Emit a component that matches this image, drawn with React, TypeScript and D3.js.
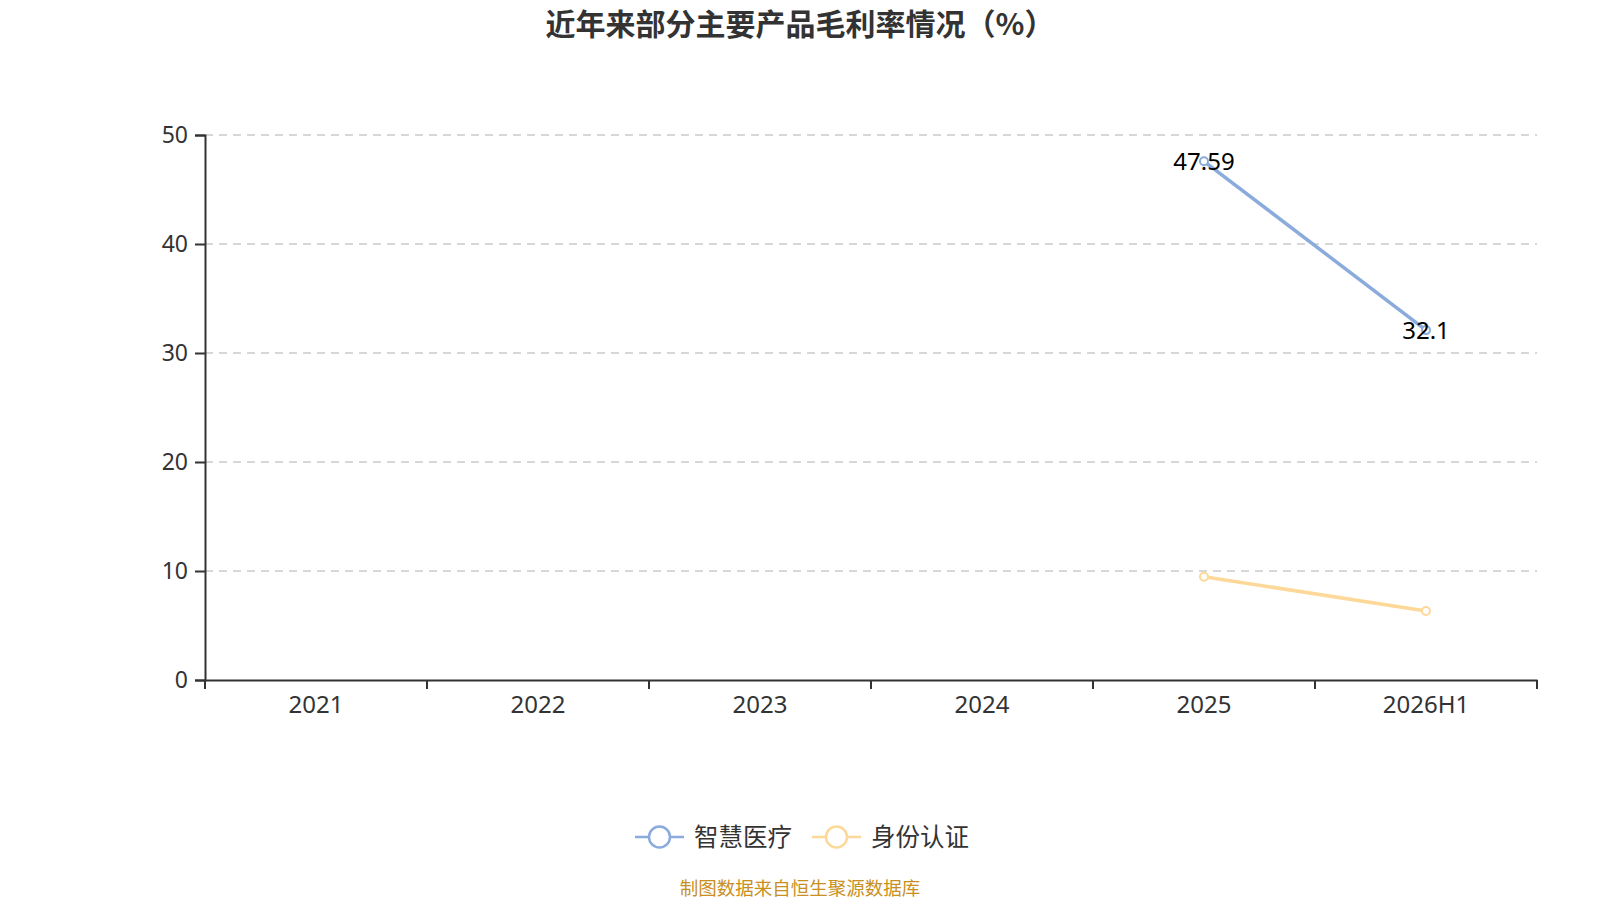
import * as React from 'react';
import {useEffect, useRef} from 'react';
import * as d3 from 'd3';

const categories = ['2021', '2022', '2023', '2024', '2025', '2026H1'];
const smartMedical = [null, null, null, null, 47.59, 32.1];
const identityAuth = [null, null, null, null, 9.48, 6.33];
const yTicks = [0, 10, 20, 30, 40, 50];

const series = [
    {name: '智慧医疗', values: smartMedical, color: '#8aabdb', labels: true},
    {name: '身份认证', values: identityAuth, color: '#fdd898', labels: false},
];

const App = () => {
    const chartRef = useRef(null);

    useEffect(() => {
        const svg = d3.select(chartRef.current);
        svg.selectAll('*').remove();

        const left = 205, right = 1537, top = 135, bottom = 680;
        const font = '"Noto Sans", "Open Sans", "Noto Sans CJK SC", sans-serif';
        const cjk = '"Noto Sans CJK SC", sans-serif';

        const xScale = d3.scaleBand().domain(categories).range([left, right]);
        const yScale = d3.scaleLinear().domain([0, 50]).range([bottom, top]);

        svg.append('text')
            .attr('x', 800)
            .attr('y', 35)
            .style('text-anchor', 'middle')
            .style('font-family', cjk)
            .style('font-size', '30px')
            .style('font-weight', 'bold')
            .style('fill', '#333')
            .text('近年来部分主要产品毛利率情况（%）');

        // grid
        svg.append('g')
            .selectAll('line')
            .data(yTicks.filter(d => d > 0))
            .enter()
            .append('line')
            .attr('x1', left)
            .attr('x2', right)
            .attr('y1', d => yScale(d))
            .attr('y2', d => yScale(d))
            .attr('stroke', '#ccc')
            .attr('stroke-width', 1.5)
            .attr('stroke-dasharray', '8,6');

        const yAxis = svg.append('g')
            .attr('transform', `translate(${left},0)`)
            .call(d3.axisLeft(yScale).tickValues(yTicks).tickSize(10).tickPadding(7));
        yAxis.select('.domain').attr('stroke', '#333').attr('stroke-width', 2);
        yAxis.selectAll('.tick line').attr('stroke', '#333').attr('stroke-width', 2);
        yAxis.selectAll('text')
            .style('font-family', font)
            .style('font-size', '23px')
            .style('fill', '#333');

        const xAxis = svg.append('g')
            .attr('transform', `translate(0,${bottom})`)
            .call(d3.axisBottom(xScale).tickSize(0).tickPadding(16));
        xAxis.select('.domain').attr('stroke', '#333').attr('stroke-width', 2);
        xAxis.selectAll('text')
            .style('font-family', font)
            .style('font-size', '24px')
            .style('fill', '#333');
        const bounds = [...categories.map(c => xScale(c)), right];
        xAxis.selectAll('.bound')
            .data(bounds)
            .enter()
            .append('line')
            .attr('x1', d => d)
            .attr('x2', d => d)
            .attr('y1', 0)
            .attr('y2', 9)
            .attr('stroke', '#333')
            .attr('stroke-width', 2);

        const cx = (c) => xScale(c) + xScale.bandwidth() / 2;

        series.forEach((s) => {
            const pts = categories.map((c, i) => ({c, v: s.values[i]})).filter(p => p.v != null);
            const line = d3.line().x(d => cx(d.c)).y(d => yScale(d.v));
            svg.append('path')
                .datum(pts)
                .attr('d', line)
                .attr('fill', 'none')
                .attr('stroke', s.color)
                .attr('stroke-width', 3.5);
            svg.append('g')
                .selectAll('circle')
                .data(pts)
                .enter()
                .append('circle')
                .attr('cx', d => cx(d.c))
                .attr('cy', d => yScale(d.v))
                .attr('r', 4)
                .attr('fill', '#fff')
                .attr('stroke', s.color)
                .attr('stroke-width', 2);
            if (s.labels) {
                svg.append('g')
                    .selectAll('text')
                    .data(pts)
                    .enter()
                    .append('text')
                    .attr('x', d => cx(d.c))
                    .attr('y', d => yScale(d.v) + 9)
                    .style('text-anchor', 'middle')
                    .style('font-family', font)
                    .style('font-size', '24px')
                    .style('fill', '#000')
                    .text(d => String(d.v));
            }
        });

        // legend
        const legendX = [635, 812];
        series.forEach((s, i) => {
            const g = svg.append('g').attr('transform', `translate(${legendX[i]},837)`);
            g.append('line').attr('x1', 0).attr('x2', 49).attr('y1', 0).attr('y2', 0)
                .attr('stroke', s.color).attr('stroke-width', 2.5);
            g.append('circle').attr('cx', 24.5).attr('cy', 0).attr('r', 10.5)
                .attr('fill', '#fff').attr('stroke', s.color).attr('stroke-width', 2.5);
            g.append('text').attr('x', 59).attr('y', 9)
                .style('font-family', cjk)
                .style('font-size', '24.5px')
                .style('fill', '#333')
                .text(s.name);
        });

        svg.append('text')
            .attr('x', 800)
            .attr('y', 895)
            .style('text-anchor', 'middle')
            .style('font-family', cjk)
            .style('font-size', '18.5px')
            .style('fill', '#c8901e')
            .text('制图数据来自恒生聚源数据库');
    }, []);

    return (
        <svg ref={chartRef} width={1600} height={900}
             style={{position: 'absolute', left: 0, top: 0, background: '#fff'}}></svg>
    );
};

export default App;
